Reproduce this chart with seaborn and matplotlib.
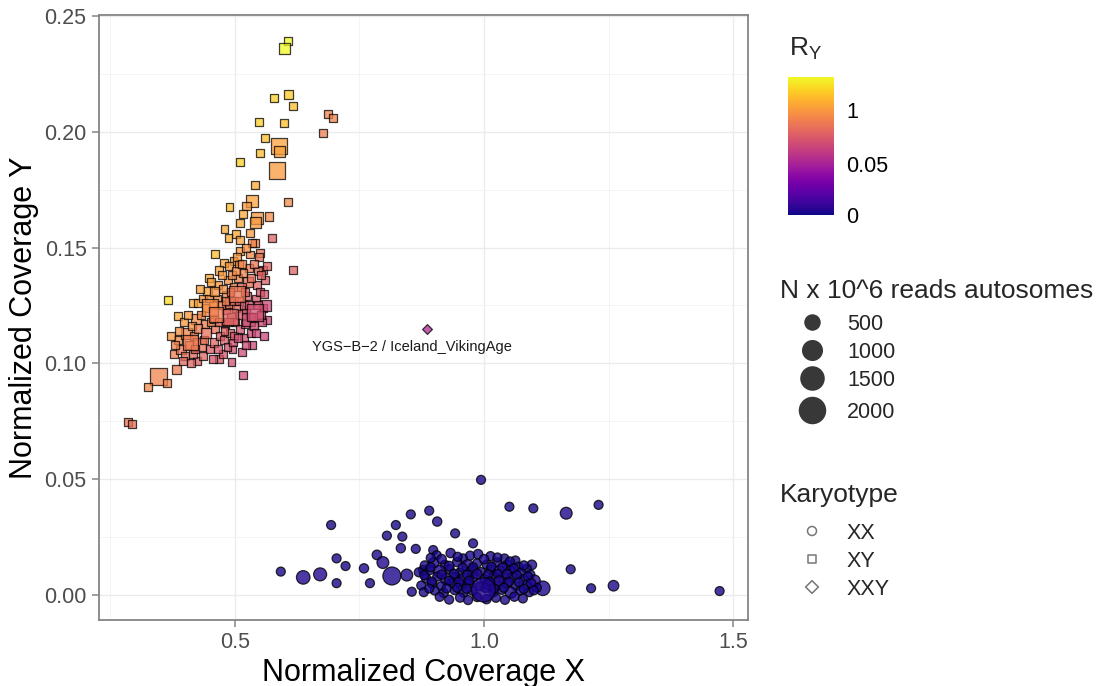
import numpy as np
import pandas as pd
import matplotlib
matplotlib.use("Agg")
import matplotlib.pyplot as plt
from matplotlib.colors import FuncNorm
from matplotlib.cm import ScalarMappable
import seaborn as sns

# ---------------- data ----------------
# Karyotype XY (squares)
xy_x = [0.346, 0.589, 0.585,
        0.607, 0.599, 0.579, 0.607, 0.616, 0.686, 0.697, 0.676, 0.549, 0.599,
        0.560, 0.589, 0.550, 0.511, 0.541, 0.534, 0.523, 0.489, 0.606, 0.517,
        0.544, 0.569, 0.541, 0.510, 0.479, 0.503, 0.487, 0.510, 0.530, 0.575,
        0.540, 0.550, 0.510, 0.460, 0.617, 0.557, 0.497, 0.477, 0.366, 0.416,
        0.386, 0.326, 0.363, 0.383, 0.286, 0.294, 0.517, 0.493, 0.467, 0.423,
        0.564,
        0.378, 0.385, 0.392, 0.372, 0.400, 0.403, 0.398, 0.408, 0.415, 0.418,
        0.421, 0.425, 0.428, 0.413, 0.435, 0.438, 0.440, 0.442, 0.445, 0.447,
        0.436, 0.449, 0.455, 0.458, 0.460, 0.463, 0.466, 0.468, 0.455, 0.470,
        0.452, 0.475, 0.478, 0.480, 0.482, 0.484, 0.486, 0.488, 0.490, 0.476,
        0.492, 0.489, 0.495, 0.498, 0.500, 0.502, 0.506, 0.508, 0.497, 0.510,
        0.505, 0.512, 0.515, 0.518, 0.520, 0.522, 0.524, 0.526, 0.528, 0.530,
        0.517, 0.532, 0.527, 0.535, 0.538, 0.542, 0.544, 0.546, 0.548, 0.550,
        0.555, 0.557, 0.558, 0.560, 0.562, 0.565,
        0.380, 0.388, 0.395, 0.405, 0.411, 0.420, 0.426, 0.432, 0.430, 0.441,
        0.448, 0.451, 0.457, 0.459, 0.465, 0.467, 0.471, 0.473, 0.479, 0.481,
        0.485, 0.487, 0.491, 0.494, 0.496, 0.499, 0.503, 0.507, 0.509, 0.513,
        0.514, 0.519, 0.521, 0.523, 0.529, 0.533, 0.536, 0.539, 0.543, 0.547,
        0.552, 0.553, 0.559, 0.534, 0.522,
        0.450, 0.410, 0.490, 0.540, 0.504, 0.462]
xy_y = [0.0943, 0.1940, 0.1832,
        0.2390, 0.2360, 0.2145, 0.2160, 0.2110, 0.2077, 0.2060, 0.1993, 0.2042, 0.2038,
        0.1972, 0.1914, 0.1907, 0.1868, 0.1769, 0.1700, 0.1680, 0.1675, 0.1698, 0.1644,
        0.1627, 0.1634, 0.1610, 0.1605, 0.1580, 0.1560, 0.1543, 0.1533, 0.1564, 0.1540,
        0.1519, 0.1475, 0.1487, 0.1471, 0.1403, 0.1403, 0.1440, 0.1432, 0.1274, 0.1260,
        0.1205, 0.0897, 0.0914, 0.0972, 0.0748, 0.0738, 0.0950, 0.1007, 0.1018, 0.1010,
        0.1187,
        0.104, 0.110, 0.106, 0.112, 0.103, 0.113, 0.118, 0.108, 0.104, 0.112,
        0.119, 0.126, 0.108, 0.116, 0.103, 0.110, 0.117, 0.124, 0.131, 0.137,
        0.128, 0.106, 0.102, 0.109, 0.115, 0.128, 0.134, 0.140, 0.125, 0.112,
        0.118, 0.104, 0.110, 0.117, 0.123, 0.129, 0.136, 0.142, 0.113, 0.132,
        0.120, 0.126, 0.106, 0.112, 0.118, 0.124, 0.137, 0.143, 0.133, 0.115,
        0.146, 0.121, 0.105, 0.111, 0.117, 0.123, 0.129, 0.135, 0.141, 0.147,
        0.139, 0.113, 0.119, 0.108, 0.116, 0.128, 0.134, 0.140, 0.146, 0.131,
        0.118, 0.124, 0.130, 0.136, 0.125, 0.142,
        0.108, 0.114, 0.101, 0.121, 0.100, 0.106, 0.115, 0.121, 0.132, 0.113,
        0.128, 0.135, 0.119, 0.131, 0.106, 0.118, 0.125, 0.138, 0.114, 0.127,
        0.107, 0.118, 0.131, 0.138, 0.109, 0.127, 0.140, 0.111, 0.127, 0.133,
        0.143, 0.125, 0.131, 0.108, 0.125, 0.137, 0.120, 0.143, 0.113, 0.125,
        0.138, 0.121, 0.112, 0.152, 0.150,
        0.1240, 0.1090, 0.1200, 0.1220, 0.1300, 0.1210]
xy_ry = [0.85, 1.05, 1.00,
         1.50, 1.50, 1.30, 1.28, 1.20, 0.85, 0.85, 0.80, 1.30, 1.20,
         1.20, 1.05, 1.20, 1.30, 1.10, 1.05, 1.00, 1.20, 0.90, 1.10,
         1.00, 0.90, 1.00, 1.10, 1.10, 1.10, 1.10, 1.05, 1.00, 0.60,
         0.90, 0.75, 1.00, 1.20, 0.60, 0.70, 1.00, 1.05, 1.35, 1.10,
         1.10, 0.90, 0.85, 0.80, 0.75, 0.70, 0.40, 0.45, 0.50, 0.60,
         0.35,
         0.80, 0.90, 0.75, 1.00, 0.70, 0.85, 1.00, 0.75, 0.65, 0.80,
         0.90, 1.05, 0.70, 0.95, 0.60, 0.70, 0.80, 0.95, 1.05, 1.10,
         1.00, 0.55, 0.50, 0.60, 0.70, 0.90, 1.00, 1.05, 0.95, 0.55,
         0.85, 0.50, 0.55, 0.65, 0.75, 0.85, 0.95, 1.00, 0.55, 0.95,
         0.60, 0.70, 0.45, 0.50, 0.55, 0.65, 0.85, 0.95, 0.85, 0.45,
         1.00, 0.50, 0.40, 0.42, 0.45, 0.50, 0.60, 0.70, 0.80, 0.90,
         0.85, 0.40, 0.42, 0.38, 0.40, 0.50, 0.60, 0.65, 0.75, 0.50,
         0.38, 0.42, 0.48, 0.55, 0.40, 0.60,
         0.85, 0.95, 0.65, 1.00, 0.60, 0.65, 0.80, 0.90, 1.05, 0.70,
         0.95, 1.05, 0.75, 0.95, 0.50, 0.65, 0.80, 1.00, 0.60, 0.80,
         0.45, 0.60, 0.80, 0.90, 0.45, 0.70, 0.90, 0.42, 0.60, 0.70,
         0.85, 0.50, 0.60, 0.38, 0.50, 0.70, 0.42, 0.75, 0.38, 0.45,
         0.60, 0.40, 0.35, 0.85, 0.95,
         0.90, 0.80, 0.60, 0.45, 0.75, 0.80]
xy_reads = [1100, 900, 950,
            30, 250, 40, 120, 40, 40, 40, 40, 40, 40,
            40, 350, 40, 40, 40, 400, 80, 40, 40, 40,
            450, 60, 300, 40, 40, 40, 40, 40, 60, 40,
            40, 40, 40, 40, 40, 40, 40, 40, 60, 40,
            40, 40, 40, 100, 40, 40, 40, 40, 40, 40,
            40,
            60, 40, 150, 40, 40, 300, 40, 40, 60, 40,
            200, 40, 500, 40, 40, 40, 80, 40, 150, 40,
            40, 40, 40, 60, 40, 40, 40, 100, 40, 40,
            40, 40, 40, 80, 40, 300, 40, 40, 40, 40,
            40, 200, 40, 40, 60, 40, 40, 40, 40, 40,
            40, 150, 40, 60, 40, 40, 40, 200, 40, 40,
            40, 40, 500, 40, 40, 40, 40, 60, 40, 40,
            40, 60, 40, 40, 300, 40,
            40, 60, 40, 40, 40, 40, 60, 40, 40, 200,
            40, 40, 40, 80, 40, 40, 40, 40, 40, 40,
            40, 60, 40, 40, 40, 40, 40, 40, 40, 60,
            40, 40, 40, 40, 40, 40, 40, 40, 40, 40,
            40, 40, 40, 40, 40,
            1000, 800, 1000, 1000, 900, 700]

# Karyotype XX (circles)
xx_x = [0.994, 1.051, 1.099, 0.693, 0.853, 0.890, 0.906, 0.823, 0.805, 0.836,
        0.942, 0.978, 0.833, 0.863, 0.704, 0.722, 0.592, 0.637, 0.671, 0.704,
        0.759, 0.771, 0.785, 0.797, 0.815, 0.845, 0.855, 0.898, 0.878, 1.118,
        1.165, 1.230, 1.174, 1.215, 1.260, 1.473, 1.096,
        0.905, 0.933, 0.958, 0.988, 1.013, 1.041, 1.063,
        0.881, 0.899, 0.921, 0.946, 0.967, 0.986, 1.006, 1.026, 1.047, 1.069, 1.086,
        0.869, 0.891, 0.911, 0.931, 0.951, 0.976, 0.994, 1.013, 1.031, 1.053, 1.074, 1.093,
        0.884, 0.906, 0.924, 0.943, 0.961, 0.979, 1.001, 1.019, 1.039, 1.057, 1.079, 1.101,
        0.874, 0.896, 0.914, 0.936, 0.954, 0.971, 0.991, 1.011, 1.027, 1.046, 1.064, 1.086, 1.106,
        0.879, 0.901, 0.919, 0.941, 0.959, 0.977, 1.019, 1.036, 1.054, 1.073, 1.091,
        0.911, 0.952, 0.986, 1.024, 1.061,
        0.893, 0.915, 0.947, 0.972, 1.000, 1.027, 1.052,
        0.893, 0.930, 0.957, 0.978, 1.015, 1.037, 1.060, 1.080,
        0.880, 0.915, 0.940, 0.966, 0.986, 1.008, 1.028, 1.046, 1.066, 1.088,
        0.895, 0.930, 0.950, 0.970, 1.012, 1.030, 1.050, 1.070, 1.095,
        0.890, 0.925, 0.946, 0.965, 1.003, 1.020, 1.040, 1.080, 1.100,
        0.930, 0.968, 1.005, 1.042, 1.078,
        0.999]
xx_y = [0.0497, 0.0381, 0.0374, 0.0302, 0.0348, 0.0364, 0.0317, 0.0302, 0.0256, 0.0252,
        0.0266, 0.0223, 0.0202, 0.0199, 0.0158, 0.0125, 0.0101, 0.0076, 0.0089, 0.0051,
        0.0115, 0.0051, 0.0173, 0.0140, 0.0082, 0.0086, 0.0014, 0.0194, 0.0108, 0.0029,
        0.0353, 0.0389, 0.0111, 0.0029, 0.0040, 0.0017, 0.0130,
        0.0172, 0.0181, 0.0158, 0.0176, 0.0168, 0.0157, 0.0149,
        0.0128, 0.0139, 0.0131, 0.0142, 0.0127, 0.0137, 0.0131, 0.0141, 0.0128, 0.0122, 0.0113,
        0.0098, 0.0108, 0.0101, 0.0112, 0.0097, 0.0106, 0.0099, 0.0109, 0.0102, 0.0107, 0.0096, 0.0089,
        0.0071, 0.0079, 0.0068, 0.0078, 0.0066, 0.0077, 0.0069, 0.0081, 0.0072, 0.0078, 0.0068, 0.0061,
        0.0041, 0.0049, 0.0038, 0.0052, 0.0042, 0.0049, 0.0037, 0.0048, 0.0041, 0.0051, 0.0039, 0.0044, 0.0031,
        0.0012, 0.0019, 0.0009, 0.0021, 0.0011, 0.0018, 0.0013, 0.0022, 0.0010, 0.0019, 0.0012,
        -0.0008, -0.0011, -0.0009, -0.0012, -0.0007,
        0.0160, 0.0155, 0.0165, 0.0170, 0.0155, 0.0162, 0.0145,
        0.0120, 0.0125, 0.0118, 0.0120, 0.0123, 0.0118, 0.0115, 0.0128,
        0.0085, 0.0088, 0.0092, 0.0087, 0.0091, 0.0088, 0.0091, 0.0090, 0.0085, 0.0080,
        0.0058, 0.0061, 0.0056, 0.0062, 0.0058, 0.0061, 0.0057, 0.0055, 0.0050,
        0.0028, 0.0028, 0.0031, 0.0027, 0.0030, 0.0028, 0.0031, 0.0026, 0.0020,
        -0.0020, -0.0022, -0.0018, -0.0021, -0.0015,
        0.0022]
xx_ry = [0.002, 0.002, 0.002, 0.002, 0.002, 0.002, 0.003, 0.002, 0.002, 0.002,
         0.002, 0.002, 0.003, 0.002, 0.002, 0.002, 0.002, 0.004, 0.005, 0.002,
         0.003, 0.002, 0.003, 0.004, 0.003, 0.003, 0.002, 0.002, 0.003, 0.003,
         0.004, 0.002, 0.002, 0.002, 0.003, 0.002, 0.003,
         0.002, 0.003, 0.002, 0.002, 0.003, 0.002, 0.002,
         0.002, 0.003, 0.002, 0.003, 0.004, 0.002, 0.002, 0.003, 0.003, 0.002, 0.002,
         0.002, 0.002, 0.004, 0.002, 0.002, 0.003, 0.002, 0.003, 0.004, 0.002, 0.002, 0.002,
         0.003, 0.002, 0.003, 0.002, 0.004, 0.002, 0.002, 0.002, 0.003, 0.002, 0.002, 0.004,
         0.002, 0.003, 0.002, 0.002, 0.003, 0.002, 0.002, 0.004, 0.002, 0.003, 0.002, 0.002, 0.002,
         0.002, 0.002, 0.003, 0.002, 0.003, 0.002, 0.002, 0.002, 0.003, 0.002, 0.002,
         0.002, 0.003, 0.002, 0.002, 0.003,
         0.002, 0.003, 0.002, 0.002, 0.003, 0.002, 0.002,
         0.002, 0.003, 0.002, 0.002, 0.002, 0.003, 0.002, 0.002,
         0.002, 0.003, 0.002, 0.002, 0.004, 0.002, 0.002, 0.003, 0.002, 0.002,
         0.002, 0.002, 0.003, 0.002, 0.002, 0.004, 0.002, 0.002, 0.003,
         0.002, 0.002, 0.002, 0.003, 0.002, 0.002, 0.002, 0.002, 0.002,
         0.002, 0.002, 0.003, 0.002, 0.002,
         0.004]
xx_reads = [40, 40, 40, 40, 40, 40, 60, 40, 40, 40,
            40, 40, 60, 40, 40, 40, 40, 400, 350, 40,
            60, 40, 80, 250, 900, 250, 40, 40, 60, 500,
            250, 40, 40, 40, 150, 40, 80,
            40, 60, 40, 80, 40, 60, 40,
            40, 150, 40, 60, 250, 40, 80, 40, 120, 40, 60,
            40, 60, 300, 40, 40, 150, 40, 60, 200, 40, 80, 40,
            60, 40, 200, 40, 400, 40, 60, 40, 150, 40, 60, 250,
            40, 80, 40, 60, 150, 40, 40, 300, 40, 80, 40, 60, 40,
            40, 40, 60, 40, 80, 40, 60, 40, 200, 40, 40,
            40, 60, 40, 40, 60,
            40, 60, 40, 40, 60, 40, 40,
            40, 80, 40, 40, 40, 60, 40, 40,
            40, 60, 40, 40, 100, 40, 40, 60, 40, 40,
            40, 40, 60, 40, 40, 100, 40, 40, 60,
            40, 40, 40, 60, 40, 40, 40, 40, 40,
            40, 40, 60, 40, 40,
            1800]

# Karyotype XXY (diamond) and its label
xxy_x = [0.885]
xxy_y = [0.1147]
xxy_ry = [0.09]
xxy_reads = [40]
xxy_label = ["YGS\u2212B\u22122 / Iceland_VikingAge"]

# scales / ticks / legend entries
x_ticks = [0.5, 1.0, 1.5]
x_tick_labels = ["0.5", "1.0", "1.5"]
x_minor = [0.25, 0.75, 1.25]
y_ticks = [0.00, 0.05, 0.10, 0.15, 0.20, 0.25]
y_tick_labels = ["0.00", "0.05", "0.10", "0.15", "0.20", "0.25"]
y_minor = [0.025, 0.075, 0.125, 0.175, 0.225]
ry_ticks = [0, 0.05, 1]
ry_tick_labels = ["0", "0.05", "1"]
ry_knots = [0, 0.05, 1, 1.5]
ry_pos = [0, 0.37, 0.76, 1.0]
size_breaks = [500, 1000, 1500, 2000]
karyotypes = ["XX", "XY", "XXY"]
karyo_markers = ["o", "s", "D"]

# ---------------- figure ----------------
sns.set_theme(style="white")
plt.rcParams["font.family"] = ["Liberation Sans", "DejaVu Sans"]
plt.rcParams["mathtext.fontset"] = "custom"
plt.rcParams["mathtext.rm"] = "Liberation Sans"
plt.rcParams["mathtext.it"] = "Liberation Sans:italic"

W, H = 1107, 686
fig = plt.figure(figsize=(W / 100, H / 100), dpi=100)
ax = fig.add_axes([99 / W, 1 - 620 / H, (748 - 99) / W, (620 - 15) / H])


def fwd(v):
    return np.interp(v, ry_knots, ry_pos)


def inv(t):
    return np.interp(t, ry_pos, ry_knots)


norm = FuncNorm((fwd, inv), vmin=0, vmax=1.5)

df_xx = pd.DataFrame({"x": xx_x, "y": xx_y, "ry": xx_ry, "reads": xx_reads})
df_xy = pd.DataFrame({"x": xy_x, "y": xy_y, "ry": xy_ry, "reads": xy_reads})
df_xxy = pd.DataFrame({"x": xxy_x, "y": xxy_y, "ry": xxy_ry, "reads": xxy_reads})

common = dict(x="x", y="y", hue="ry", palette="plasma", hue_norm=norm,
              size="reads", size_norm=(0, 2000), edgecolor="black",
              linewidth=0.9, legend=False, ax=ax)
smin, smax = 36, 330
sns.scatterplot(data=df_xx, marker="o", sizes=(smin, smax), alpha=0.8, **common)
sns.scatterplot(data=df_xy, marker="s", sizes=(smin * 0.785, smax * 0.785), alpha=0.75, **common)
sns.scatterplot(data=df_xxy, marker="D", sizes=(smin * 0.6, smax * 0.6), alpha=0.75, **common)

for lx, ly, lab in zip(xxy_x, xxy_y, xxy_label):
    ax.text(lx - 0.030, ly - 0.0075, lab, ha="center", va="center",
            fontsize=10.5, color="#1a1a1a")

ax.set_xlim(0.227, 1.530)
ax.set_ylim(-0.0108, 0.2504)
ax.set_xticks(x_ticks)
ax.set_xticklabels(x_tick_labels)
ax.set_yticks(y_ticks)
ax.set_yticklabels(y_tick_labels)
ax.set_xticks(x_minor, minor=True)
ax.set_yticks(y_minor, minor=True)
ax.grid(True, which="major", color="#ebebeb", linewidth=1.0)
ax.grid(True, which="minor", color="#f3f3f3", linewidth=0.6)
ax.set_axisbelow(True)
for s in ax.spines.values():
    s.set_color("#858585")
    s.set_linewidth(1.3)
ax.tick_params(which="major", length=5, width=1.1, color="#858585",
               labelcolor="#4d4d4d", labelsize=15.5, pad=4,
               bottom=True, left=True)
ax.tick_params(which="minor", length=0)
ax.set_xlabel("Normalized Coverage X", fontsize=22, labelpad=3, color="black")
ax.set_ylabel("Normalized Coverage Y", fontsize=22, labelpad=4, color="black")

# ---------------- legends ----------------
cax = fig.add_axes([788 / W, 1 - 215 / H, 46 / W, 138 / H])
cb = fig.colorbar(ScalarMappable(norm=norm, cmap="plasma"), cax=cax, ticks=ry_ticks)
cb.set_ticklabels(ry_tick_labels)
cb.outline.set_visible(False)
cax.tick_params(direction="in", color="white", length=5, width=1.0,
                left=True, right=True, labelsize=15.5, pad=9, labelcolor="black")

lax = fig.add_axes([0, 0, 1, 1])
lax.patch.set_visible(False)
lax.set_xlim(0, W)
lax.set_ylim(H, 0)
lax.axis("off")

lax.text(789, 56, r"$\mathregular{R_Y}$", fontsize=19, va="baseline", ha="left")

lax.text(780, 298, "N x 10^6 reads autosomes", fontsize=19, va="baseline", ha="left")
size_key_y = [322, 350, 378, 410]
for b, yk in zip(size_breaks, size_key_y):
    d_px = 5.5 + 22 * np.sqrt(b / 2000)
    lax.scatter([812], [yk], s=(d_px * 0.72) ** 2, color="#383838", linewidths=0)
    lax.text(847, yk, f"{b}", fontsize=15.5, va="center_baseline", ha="left")

lax.text(780, 502, "Karyotype", fontsize=19, va="baseline", ha="left")
karyo_key_y = [531, 559, 587]
karyo_key_d = [9, 8, 9]
for lab, mk, yk, d in zip(karyotypes, karyo_markers, karyo_key_y, karyo_key_d):
    lax.scatter([812], [yk], s=(d * 0.72) ** 2, marker=mk, facecolors="none",
                edgecolors="#777777", linewidths=1.1)
    lax.text(847, yk, lab, fontsize=15.5, va="center_baseline", ha="left")

fig.savefig("out.png", dpi=100)
